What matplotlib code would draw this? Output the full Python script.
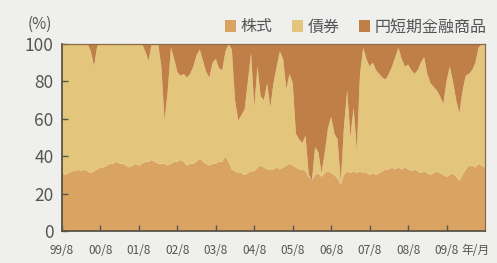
import numpy as np
import matplotlib
matplotlib.use("Agg")
import matplotlib.pyplot as plt
from matplotlib.patches import Patch

plt.rcParams['font.family'] = ['Noto Sans CJK JP', 'DejaVu Sans']

# monthly, 1999/8 .. 2010/8 (%)
stocks = [31, 30, 31, 32, 32, 33, 32, 33, 32, 31, 32, 33, 34, 34, 35, 36, 36, 37, 36, 36,
          35, 34, 35, 36, 35, 36, 37, 37, 38, 37, 36, 36, 36, 35, 36, 37, 37, 38, 37, 35,
          36, 36, 37, 39, 37, 36, 35, 36, 36, 37, 37, 40, 37, 33, 32, 31, 31, 30, 31, 32,
          32, 34, 35, 34, 33, 33, 33, 34, 33, 34, 35, 36, 35, 34, 33, 33, 32, 29, 27, 30,
          31, 29, 31, 32, 31, 30, 28, 25, 30, 32, 31, 32, 31, 32, 31, 31, 30, 31, 30, 31,
          32, 33, 33, 34, 33, 34, 33, 34, 33, 32, 33, 32, 31, 32, 31, 30, 31, 32, 31, 30,
          29, 30, 31, 29, 27, 30, 33, 35, 35, 34, 36, 35, 34]
cash = [0, 0, 0, 0, 0, 0, 0, 0, 0, 4, 12, 1, 0, 0, 0, 0, 0, 0, 0, 0,
        0, 0, 0, 0, 0, 0, 4, 9, 0, 0, 0, 12, 41, 25, 2, 8, 15, 17, 16, 18,
        16, 12, 6, 3, 9, 15, 18, 10, 8, 13, 14, 4, 0, 3, 30, 41, 38, 35, 20, 5,
        34, 12, 28, 30, 21, 34, 21, 12, 4, 8, 24, 16, 21, 48, 51, 53, 49, 70, 73, 55,
        58, 69, 58, 45, 39, 48, 51, 74, 44, 25, 50, 34, 57, 16, 2, 8, 12, 10, 14, 16,
        18, 19, 16, 12, 7, 2, 8, 12, 11, 14, 16, 14, 10, 7, 16, 21, 23, 25, 28, 32,
        20, 12, 20, 30, 37, 25, 17, 16, 14, 10, 2, 0, 0]
bonds = [100 - s - c for s, c in zip(stocks, cash)]

tick_labels = ['99/8', '00/8', '01/8', '02/8', '03/8', '04/8', '05/8', '06/8', '07/8', '08/8', '09/8']
names = ['株式', '債券', '円短期金融商品']
colors = ['#d9a461', '#e3c57b', '#c17f48']

months = np.arange(len(stocks))

fig = plt.figure(figsize=(4.97, 2.63), dpi=100, facecolor='#efefed')
ax = fig.add_axes([62 / 497, 1 - 231 / 263, 423 / 497, 187 / 263])

ax.stackplot(months, stocks, bonds, cash, colors=colors, linewidth=0)
ax.set_xlim(0, len(stocks) - 1)
ax.set_ylim(0, 100)

ax.set_yticks(range(0, 101, 20))
ax.set_xticks(months[::12][:len(tick_labels)])
ax.set_xticklabels(tick_labels)
ax.tick_params(axis='y', direction='in', length=4, width=1, color='#555555',
               labelsize=12.5, labelcolor='#555555', pad=6)
ax.tick_params(axis='x', direction='in', length=4, width=1, color='#555555',
               labelsize=8.5, labelcolor='#555555', pad=9)

for side in ['left', 'bottom']:
    ax.spines[side].set_color('#5a5348')
    ax.spines[side].set_linewidth(1.3)
for side in ['top', 'right']:
    ax.spines[side].set_color('#8b6b4b')
    ax.spines[side].set_linewidth(0.9)

fig.text(40 / 497, 1 - 24 / 263, '(%)', ha='center', va='center', fontsize=11, color='#555555')
fig.text(475 / 497, 1 - 250 / 263, '年/月', ha='center', va='center', fontsize=8.5, color='#555555')

handles = [Patch(facecolor=c, edgecolor='none') for c in colors]
fig.legend(handles, names, loc='center right', bbox_to_anchor=(487 / 497, 1 - 27 / 263),
           ncol=3, frameon=False, fontsize=11.5, handlelength=0.7, handleheight=0.7,
           handletextpad=0.3, columnspacing=1.2, borderpad=0, borderaxespad=0,
           labelcolor='#555555')

fig.savefig('out.png', dpi=100, facecolor=fig.get_facecolor())
